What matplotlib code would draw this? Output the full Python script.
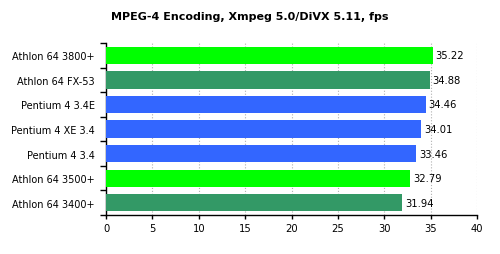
import matplotlib
matplotlib.use('Agg')
import matplotlib.pyplot as plt
import numpy as np

# Data, top to bottom as in the chart
labels = ['Athlon 64 3800+', 'Athlon 64 FX-53', 'Pentium 4 3.4E',
          'Pentium 4 XE 3.4', 'Pentium 4 3.4', 'Athlon 64 3500+',
          'Athlon 64 3400+']
values = [35.22, 34.88, 34.46, 34.01, 33.46, 32.79, 31.94]
colors = ['#00FF00', '#339966', '#3366FF', '#3366FF', '#3366FF',
          '#00FF00', '#339966']

plt.rcParams['font.family'] = 'DejaVu Sans'
fig = plt.figure(figsize=(5, 2.55), dpi=100)
ax = fig.add_axes([0.212, 0.153, 0.742, 0.674])

y = np.arange(len(labels))[::-1]
ax.barh(y, values, height=0.7, color=colors, zorder=3)
for yi, v in zip(y, values):
    ax.text(v + 0.3, yi, f'{v:.2f}', va='center', ha='left', fontsize=7.2,
            zorder=4)

ax.set_xlim(0, 40)
ax.set_ylim(-0.5, len(labels) - 0.5)
ax.set_xticks(np.arange(0, 41, 5))
ax.tick_params(axis='x', labelsize=7.2, length=3, width=1, pad=3)
ax.set_yticks(y)
ax.set_yticklabels(labels, fontsize=7)
ax.tick_params(axis='y', which='major', length=0, pad=8)
ax.set_yticks(np.arange(-0.5, len(labels), 1), minor=True)
ax.tick_params(axis='y', which='minor', length=4, width=1)

ax.grid(axis='x', linestyle=':', color='#b0b0b0', linewidth=0.8, zorder=0)
ax.spines['top'].set_visible(False)
ax.spines['right'].set_visible(False)
ax.spines['left'].set_linewidth(1)
ax.spines['bottom'].set_linewidth(1)

fig.text(0.5, 0.932, 'MPEG-4 Encoding, Xmpeg 5.0/DiVX 5.11, fps', fontsize=8,
         fontweight='bold', ha='center', va='center')

fig.savefig('out.png', dpi=100)
